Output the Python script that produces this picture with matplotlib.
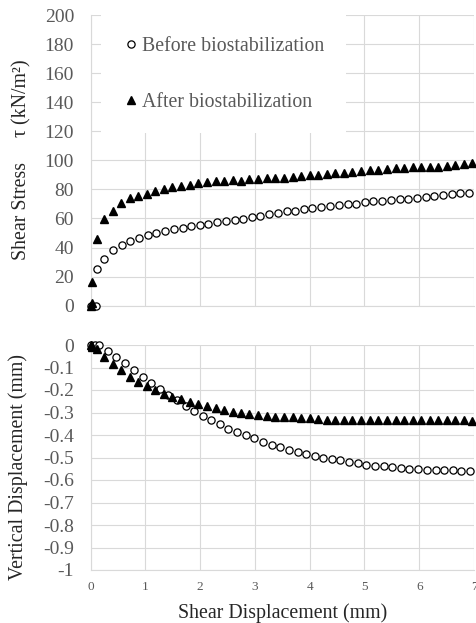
import matplotlib
matplotlib.use("Agg")
import matplotlib.pyplot as plt

plt.rcParams["font.family"] = ["Liberation Serif", "DejaVu Serif"]

# shear stress vs shear displacement
before_x_top = [0.00, 0.10, 0.11, 0.25, 0.41, 0.57, 0.72, 0.88, 1.04, 1.20, 1.36, 1.52,
                1.68, 1.83, 1.99, 2.15, 2.31, 2.47, 2.63, 2.79, 2.94, 3.10, 3.26, 3.42,
                3.58, 3.74, 3.90, 4.05, 4.21, 4.37, 4.53, 4.69, 4.85, 5.01, 5.16, 5.32,
                5.48, 5.64, 5.80, 5.96, 6.12, 6.27, 6.43, 6.59, 6.75, 6.91]
before_tau = [0, 0, 25.0, 31.9, 38.3, 41.5, 44.2, 46.5, 48.5, 50.3, 51.6, 52.7,
              53.7, 54.6, 55.6, 56.5, 57.4, 58.3, 59.2, 59.9, 60.8, 61.9, 62.9, 64.0,
              64.9, 65.4, 66.3, 67.2, 67.7, 68.6, 69.5, 69.8, 70.2, 71.1, 71.8, 72.3,
              72.7, 73.2, 73.6, 74.1, 75.0, 75.5, 75.9, 76.8, 77.3, 77.8]

after_x = [0.00, 0.02, 0.03, 0.11, 0.24, 0.40, 0.55, 0.71, 0.87, 1.02, 1.18, 1.34,
           1.49, 1.65, 1.81, 1.96, 2.12, 2.28, 2.43, 2.59, 2.75, 2.90, 3.06, 3.22,
           3.37, 3.53, 3.69, 3.84, 4.00, 4.16, 4.31, 4.47, 4.63, 4.78, 4.94, 5.10,
           5.25, 5.41, 5.57, 5.72, 5.88, 6.04, 6.19, 6.35, 6.51, 6.66, 6.82, 6.97]
after_tau = [0, 2, 16.5, 45.7, 59.5, 65.3, 70.8, 73.8, 75.4, 76.8, 79.0, 80.0,
             81.5, 82.4, 83.2, 84.5, 85.1, 85.6, 85.8, 86.5, 86.0, 87.2, 87.2, 87.9,
             88.1, 88.1, 88.3, 89.0, 89.9, 89.9, 90.6, 91.1, 91.3, 92.0, 92.5, 93.1,
             93.6, 94.0, 94.5, 95.0, 95.2, 95.2, 95.2, 95.4, 96.1, 97.0, 97.5, 98.0]

# vertical displacement vs shear displacement
before_x_bot = [0.00, 0.08, 0.16, 0.31, 0.47, 0.63, 0.79, 0.95, 1.10, 1.27, 1.42, 1.58,
                1.74, 1.89, 2.05, 2.20, 2.36, 2.51, 2.68, 2.83, 2.99, 3.15, 3.31, 3.46,
                3.62, 3.78, 3.94, 4.09, 4.25, 4.41, 4.56, 4.72, 4.88, 5.03, 5.19, 5.35,
                5.50, 5.66, 5.82, 5.98, 6.14, 6.30, 6.45, 6.61, 6.76, 6.92]
before_vert = [0, 0, 0, -0.027, -0.052, -0.081, -0.111, -0.144, -0.167, -0.196, -0.221, -0.244,
               -0.270, -0.293, -0.316, -0.333, -0.353, -0.372, -0.385, -0.401, -0.415, -0.430,
               -0.443, -0.453, -0.465, -0.476, -0.484, -0.493, -0.500, -0.508, -0.513, -0.519,
               -0.526, -0.533, -0.536, -0.538, -0.542, -0.545, -0.550, -0.553, -0.556, -0.556,
               -0.556, -0.556, -0.560, -0.560]
after_vert = [0, -0.005, -0.010, -0.019, -0.052, -0.083, -0.113, -0.140, -0.163, -0.184, -0.200, -0.218,
              -0.230, -0.241, -0.252, -0.264, -0.271, -0.279, -0.289, -0.296, -0.304, -0.306, -0.311,
              -0.316, -0.318, -0.321, -0.322, -0.326, -0.326, -0.330, -0.333, -0.333, -0.334, -0.333,
              -0.334, -0.333, -0.334, -0.333, -0.333, -0.334, -0.333, -0.333, -0.334, -0.333, -0.334,
              -0.333, -0.334, -0.336]

x_ticks = [0, 1, 2, 3, 4, 5, 6, 7]
tau_ticks = [0, 20, 40, 60, 80, 100, 120, 140, 160, 180, 200]
vert_ticks = [0, -0.1, -0.2, -0.3, -0.4, -0.5, -0.6, -0.7, -0.8, -0.9, -1]
vert_labels = ["0", "-0.1", "-0.2", "-0.3", "-0.4", "-0.5", "-0.6", "-0.7", "-0.8", "-0.9", "-1"]

W, H = 476, 623
grid_c = "#d9d9d9"
tick_c = "#595959"
label_c = "#262626"

fig = plt.figure(figsize=(W / 100, H / 100), dpi=100)
x0, x1 = 90.7, 474
ax1 = fig.add_axes([x0 / W, 1 - 305.7 / H, (x1 - x0) / W, (305.7 - 15) / H])
ax2 = fig.add_axes([x0 / W, 1 - 570 / H, (x1 - x0) / W, (570 - 345) / H])

circ = dict(linestyle="none", marker="o", ms=5.2, mfc="white", mec="black", mew=0.9, clip_on=False, zorder=3)
tri = dict(linestyle="none", marker="^", ms=5.8, color="black", clip_on=False, zorder=3)

ax1.plot(before_x_top, before_tau, label="Before biostabilization", **circ)
ax1.plot(after_x, after_tau, label="After biostabilization", **tri)
ax2.plot(before_x_bot, before_vert, **circ)
ax2.plot(after_x, after_vert, **tri)

for ax in (ax1, ax2):
    ax.set_xlim(0, 7)
    ax.set_xticks(x_ticks)
    ax.grid(True, color=grid_c, lw=0.8)
    ax.set_axisbelow(True)
    for s in ("top", "right"):
        ax.spines[s].set_visible(False)
    for s in ("left", "bottom"):
        ax.spines[s].set_color(grid_c)
        ax.spines[s].set_linewidth(0.8)
    ax.tick_params(length=0, colors=tick_c)
    ax.tick_params(axis="y", labelsize=14, pad=12)

ax1.set_ylim(0, 200)
ax1.set_yticks(tau_ticks)
ax1.tick_params(axis="x", labelbottom=False)

ax2.set_ylim(-1, 0)
ax2.set_yticks(vert_ticks)
ax2.set_yticklabels(vert_labels)
ax2.tick_params(axis="x", labelsize=9.5, pad=8)

leg = ax1.legend(loc="upper left", bbox_to_anchor=(101 / W, 1 - 15 / H),
                 bbox_transform=fig.transFigure, fontsize=14.3, frameon=True,
                 facecolor="white", edgecolor="none", framealpha=1, fancybox=False,
                 handlelength=0.8, handletextpad=0.15, labelspacing=1.85, borderpad=1.1,
                 borderaxespad=0)
for t in leg.get_texts():
    t.set_color(tick_c)

fig.text(21.7 / W, 1 - 160 / H, "Shear Stress     τ (kN/m²)", rotation=90,
         ha="center", va="center", fontsize=14.3, color=label_c)
fig.text(18 / W, 1 - 467.5 / H, "Vertical Displacement (mm)", rotation=90,
         ha="center", va="center", fontsize=14.3, color=label_c)
fig.text(282.3 / W, 1 - 618 / H, "Shear Displacement (mm)", ha="center",
         va="baseline", fontsize=14.3, color=label_c)

fig.savefig("out.png", dpi=100)
